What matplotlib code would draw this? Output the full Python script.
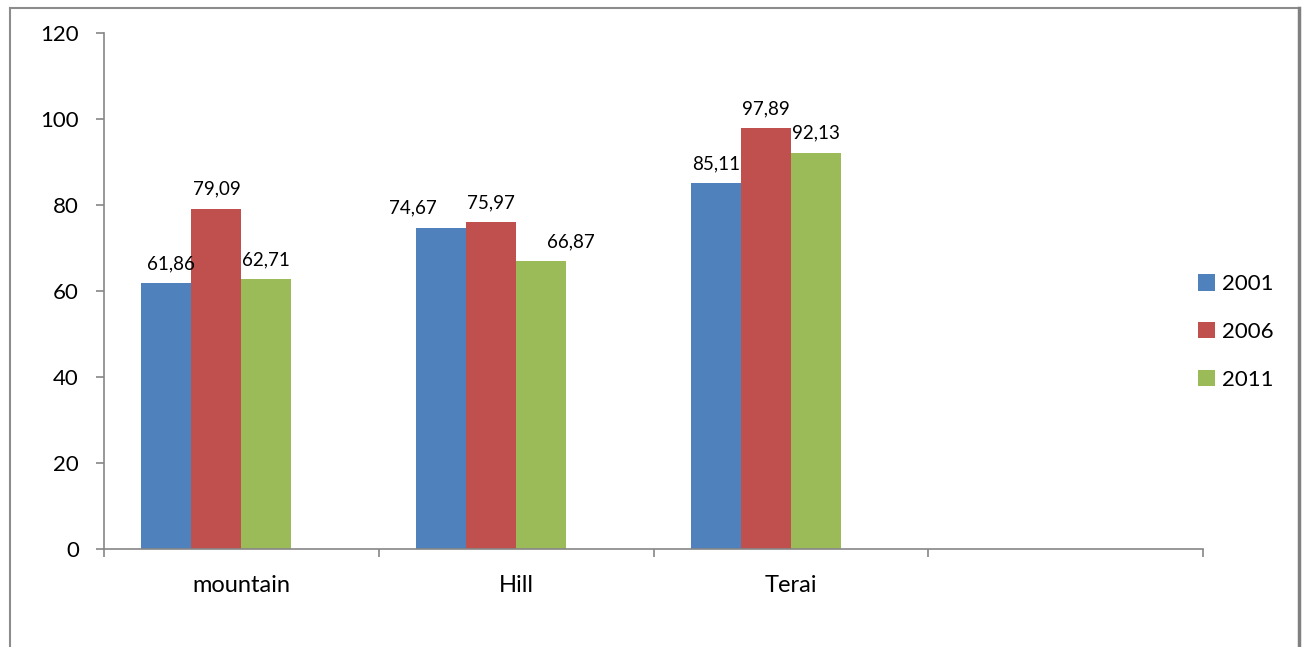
import matplotlib.pyplot as plt
import matplotlib as mpl
from matplotlib.lines import Line2D
import numpy as np
mpl.use('Agg')

## Data
regions = ['mountain', 'Hill', 'Terai', '']
years = ['2001', '2006', '2011']
v2001 = [61.86, 74.67, 85.11]
v2006 = [79.09, 75.97, 97.89]
v2011 = [62.71, 66.87, 92.13]
yticks = [0, 20, 40, 60, 80, 100, 120]

colors = ['#4F81BD', '#C0504D', '#9BBB59']
axis_gray = '#868686'
plt.rcParams['font.family'] = ['Lato', 'DejaVu Sans']

# label nudges (pixels) as Excel moved the overlapping Hill labels aside
label_dx = [[4, -28, 0], [0, 0, 0], [0, 30, 0]]

fig = plt.figure(figsize=(13.03, 6.47), dpi=100, facecolor='w')
W, H = 1303, 647
ax = fig.add_axes([104 / W, 1 - 549 / H, (1203 - 104) / W, (549 - 33) / H])

# Excel-like layout: 4 series slots (last empty), gap width 150%
nslot = 4
w = 1 / (nslot + 1.5)
x0 = np.arange(len(v2001)) + 0.75 * w
for k, (vals, c, lab) in enumerate(zip([v2001, v2006, v2011], colors, years)):
    xs = x0 + k * w
    bars = ax.bar(xs, vals, width=w, align='edge', color=c, label=lab)
    for j, (b, v) in enumerate(zip(bars, vals)):
        ax.annotate(f'{v:.2f}'.replace('.', ','), (b.get_x() + w / 2, v),
                    xytext=(label_dx[k][j] * 0.72, 8), textcoords='offset points',
                    ha='center', va='bottom', fontsize=13.5)

ax.set_xlim(0, len(regions))
ax.set_ylim(0, 120)
ax.set_yticks(yticks)
ax.set_xticks(range(len(regions) + 1))
ax.set_xticklabels([])
ax.set_xticks(np.arange(len(regions)) + 0.5, minor=True)
ax.set_xticklabels(regions, minor=True)
ax.tick_params(axis='x', which='minor', length=0, pad=19, labelsize=17)
ax.tick_params(axis='x', which='major', length=6, width=1.2, color=axis_gray, direction='out')
ax.tick_params(axis='y', length=6, width=1.2, color=axis_gray, direction='out',
               labelsize=16, pad=12)
for s in ['top', 'right']:
    ax.spines[s].set_visible(False)
for s in ['left', 'bottom']:
    ax.spines[s].set_color(axis_gray)
    ax.spines[s].set_linewidth(1.2)

ax.legend(loc='center left', bbox_to_anchor=(1198 / W, 1 - 332 / H), bbox_transform=fig.transFigure,
          frameon=False, fontsize=16, handlelength=0.75, handleheight=0.75,
          handletextpad=0.35, labelspacing=1.25, borderaxespad=0, borderpad=0)

# outer chart frame
fig.add_artist(Line2D([10 / W, 10 / W], [0, 1 - 8 / H], color='#8c8c8c', lw=1.5,
                      transform=fig.transFigure))
fig.add_artist(Line2D([10 / W, 1299 / W], [1 - 8 / H, 1 - 8 / H], color='#8c8c8c', lw=1.5,
                      transform=fig.transFigure))
fig.add_artist(Line2D([1299 / W, 1299 / W], [0, 1 - 8 / H], color='#808080', lw=2.5,
                      transform=fig.transFigure))

plt.savefig('out.png', dpi=100)
